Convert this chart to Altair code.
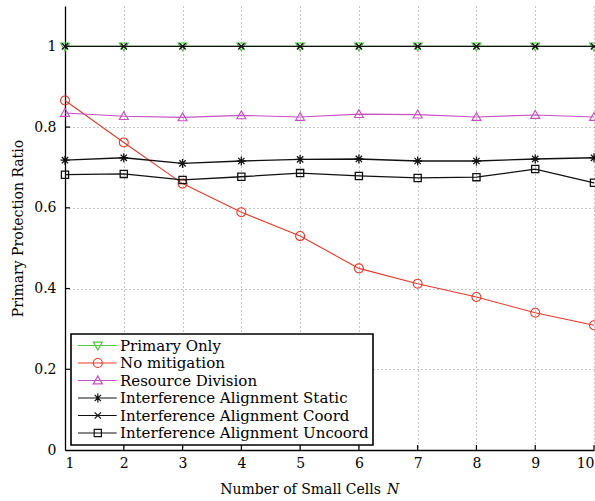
import altair as alt
import pandas as pd

N = [1, 2, 3, 4, 5, 6, 7, 8, 9, 10]
series_names = ["Primary Only", "No mitigation", "Resource Division",
                "Interference Alignment Static", "Interference Alignment Coord",
                "Interference Alignment Uncoord"]
primary_only = [1, 1, 1, 1, 1, 1, 1, 1, 1, 1]
no_mitigation = [0.866, 0.762, 0.660, 0.589, 0.530, 0.450, 0.412, 0.379, 0.340, 0.309]
resource_division = [0.835, 0.827, 0.824, 0.829, 0.825, 0.832, 0.831, 0.825, 0.830, 0.825]
ia_static = [0.718, 0.724, 0.710, 0.716, 0.720, 0.721, 0.716, 0.716, 0.721, 0.724]
ia_coord = [1, 1, 1, 1, 1, 1, 1, 1, 1, 1]
ia_uncoord = [0.682, 0.684, 0.669, 0.677, 0.686, 0.679, 0.674, 0.676, 0.696, 0.662]
y_ticks = [0, 0.2, 0.4, 0.6, 0.8, 1]
x_ticks = N

colors = ["#4fc840", "#e8392a", "#c650c0", "#111111", "#111111", "#111111"]
widths = [1.1, 1.1, 1.1, 1.3, 1.3, 1.3]
values = [primary_only, no_mitigation, resource_division, ia_static, ia_coord, ia_uncoord]


def tri_down(cx=0.0):
    return f"M{cx-1},-0.75L{cx+1},-0.75L{cx},1Z"


def tri_up(cx=0.0):
    return f"M{cx-1},0.75L{cx+1},0.75L{cx},-1Z"


def circle(cx=0.0):
    return f"M{cx+1},0A1,1,0,1,1,{cx-1},0A1,1,0,1,1,{cx+1},0Z"


def asterisk(cx=0.0):
    return (f"M{cx},-1L{cx},1M{cx-1},0L{cx+1},0"
            f"M{cx-0.7},-0.7L{cx+0.7},0.7M{cx-0.7},0.7L{cx+0.7},-0.7")


def xmark(cx=0.0):
    return f"M{cx-0.7},-0.7L{cx+0.7},0.7M{cx-0.7},0.7L{cx+0.7},-0.7"


def square(cx=0.0):
    return f"M{cx-0.8},-0.8L{cx+0.8},-0.8L{cx+0.8},0.8L{cx-0.8},0.8Z"


marker_fns = [tri_down, circle, tri_up, asterisk, xmark, square]
CX = 3.4
legend_paths = [f"M-1,0L7.6,0" + fn(CX) for fn in marker_fns]

rows = []
for name, vals in zip(series_names, values):
    for n, v in zip(N, vals):
        rows.append({"N": n, "ratio": v, "series": name})
df = pd.DataFrame(rows)

W, H = 529, 444
FONT = "DejaVu Serif"
FS = 14

xscale = alt.Scale(domain=[1, 10], nice=False, zero=False)
yscale = alt.Scale(domain=[0, 1.1], nice=False)

grid_dash = [1, 3]

base = alt.Chart(df)

axes_layer = base.mark_point(opacity=0).encode(
    x=alt.X("N:Q", scale=xscale,
            axis=alt.Axis(values=x_ticks, format="d", title=None, grid=True,
                          gridDash=grid_dash, gridColor="#8a8a8a", gridWidth=1, tickSize=0,
                          labelPadding=6, domainColor="#000000", domainWidth=1.3,
                          labelFont=FONT, labelFontSize=FS, labelColor="#000000")),
    y=alt.Y("ratio:Q", scale=yscale,
            axis=alt.Axis(values=y_ticks, format="~g", title="Primary Protection Ratio",
                          grid=True, gridDash=grid_dash, gridColor="#8a8a8a", gridWidth=1,
                          tickSize=0, labelPadding=9, domainColor="#000000",
                          domainWidth=1.3, labelFont=FONT, labelFontSize=FS,
                          labelColor="#000000", titleFont=FONT, titleFontSize=FS,
                          titleFontWeight="normal", titleColor="#000000",
                          titlePadding=8)),
)

ytick_df = pd.DataFrame({"t": y_ticks[1:]})
xtick_df = pd.DataFrame({"t": x_ticks[1:]})
ytick_layer = alt.Chart(ytick_df).mark_rule(color="black", strokeWidth=1.2).encode(
    y=alt.Y("t:Q", scale=yscale), x=alt.value(0), x2=alt.value(5))
xtick_layer = alt.Chart(xtick_df).mark_rule(color="black", strokeWidth=1.2).encode(
    x=alt.X("t:Q", scale=xscale), y=alt.value(H), y2=alt.value(H - 5))

layers = [axes_layer, ytick_layer, xtick_layer]
for name, col, w, fn in zip(series_names, colors, widths, marker_fns):
    sub = base.transform_filter(alt.datum.series == name)
    layers.append(sub.mark_line(color=col, strokeWidth=w).encode(
        x=alt.X("N:Q", scale=xscale), y=alt.Y("ratio:Q", scale=yscale)))
    layers.append(sub.mark_point(shape=fn(), size=81, filled=False, color=col,
                                 strokeWidth=w, opacity=1).encode(
        x=alt.X("N:Q", scale=xscale), y=alt.Y("ratio:Q", scale=yscale)))

legend_layer = base.transform_filter("false").mark_point(filled=False, opacity=1).encode(
    x=alt.X("N:Q", scale=xscale), y=alt.Y("ratio:Q", scale=yscale),
    color=alt.Color("series:N", scale=alt.Scale(domain=series_names, range=colors),
                    legend=alt.Legend(title=None)),
    shape=alt.Shape("series:N", scale=alt.Scale(domain=series_names, range=legend_paths),
                    legend=alt.Legend(title=None)),
)
layers.append(legend_layer)

title_main = alt.Chart(pd.DataFrame({"t": ["Number of Small Cells"]})).mark_text(
    font=FONT, fontSize=FS, align="right", baseline="middle", color="black").encode(
    text="t:N", x=alt.value(316), y=alt.value(484))
title_n = alt.Chart(pd.DataFrame({"t": ["N"]})).mark_text(
    font=FONT, fontSize=FS, fontStyle="italic", align="left", baseline="middle",
    color="black").encode(text="t:N", x=alt.value(322), y=alt.value(484))
layers += [title_main, title_n]

chart = alt.layer(*layers).properties(
    width=W, height=H,
    autosize=alt.AutoSizeParams(type="none"),
    padding={"left": 65, "top": 6, "right": 1, "bottom": 51},
).configure_view(stroke=None).configure_legend(
    orient="none", legendX=6, legendY=328,
    fillColor="white", strokeColor="black", strokeWidth=1.6, padding=4,
    labelFont=FONT, labelFontSize=15, labelColor="black",
    symbolSize=81, symbolStrokeWidth=1.2, symbolFillColor="transparent",
    labelOffset=30, rowPadding=1.5, labelLimit=400,
)

chart.save("out.html", embed_options={"renderer": "svg", "actions": False})
